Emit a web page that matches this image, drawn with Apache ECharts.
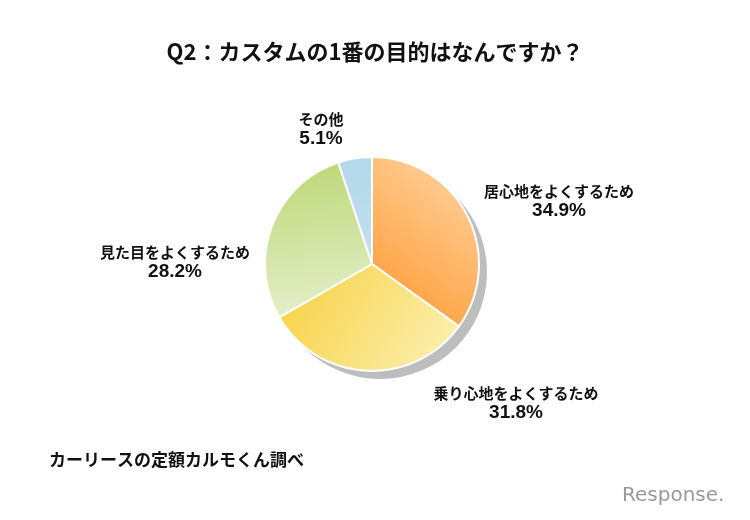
<!DOCTYPE html>
<html>
<head>
<meta charset="utf-8">
<script src="https://cdn.jsdelivr.net/npm/echarts@6/dist/echarts.min.js"></script>
<style>html,body{margin:0;padding:0;background:#fff;}#c{width:750px;height:520px;}</style>
</head>
<body>
<div id="c"></div>
<script>
const categories = ['居心地をよくするため', '乗り心地をよくするため', '見た目をよくするため', 'その他'];
const values = [34.9, 31.8, 28.2, 5.1];
const percentLabels = ['34.9%', '31.8%', '28.2%', '5.1%'];

const titleText = 'Q2：カスタムの1番の目的はなんですか？';
const sourceText = 'カーリースの定額カルモくん調べ';

const FONT = '"Noto Sans CJK JP", "Noto Sans", sans-serif';
const sliceColors = [
  {type:'linear', x:1, y:0, x2:0, y2:0.85, colorStops:[{offset:0,color:'#ffd8a8'},{offset:1,color:'#ff9c36'}]},
  {type:'linear', x:0, y:0, x2:1, y2:1, colorStops:[{offset:0,color:'#f7d03e'},{offset:1,color:'#fbf2b8'}]},
  {type:'linear', x:0.3, y:0, x2:0.5, y2:1, colorStops:[{offset:0,color:'#bcd876'},{offset:1,color:'#e5efcb'}]},
  {type:'linear', x:0, y:0, x2:1, y2:1, colorStops:[{offset:0,color:'#b2d8ea'},{offset:1,color:'#c2e0ee'}]}
];
const labelPos = [[559, 201], [516, 403], [175, 262], [321, 129]];

const chart = echarts.init(document.getElementById('c'), null, {renderer:'canvas'});
chart.setOption({
  backgroundColor: '#fff',
  animation: false,
  title: {
    text: titleText,
    left: 'center',
    top: 36,
    textStyle: {fontFamily: FONT, fontSize: 22, fontWeight: 'bold', color: '#111'}
  },
  graphic: [
    {type:'text', left: 49, top: 451, style: {text: sourceText, font: 'bold 17px ' + FONT, fill: '#111'}},
    {type:'text', left: 622, top: 486, style: {text: 'Response.', font: '20px "DejaVu Sans", sans-serif', fill: '#9a9a9a'}}
  ],
  series: [
    {
      type: 'pie',
      silent: true,
      center: [380, 272],
      radius: 107,
      label: {show: false},
      labelLine: {show: false},
      itemStyle: {color: '#bdbdbd'},
      data: [{value: 100, name: 'shadow'}],
      z: 1
    },
    {
      type: 'pie',
      center: [372, 264],
      radius: 107,
      startAngle: 90,
      clockwise: true,
      z: 2,
      itemStyle: {borderColor: '#fff', borderWidth: 2},
      labelLine: {show: false},
      label: {
        show: true,
        position: 'outside',
        formatter: p => '{n|' + p.name + '}\n{p|' + percentLabels[p.dataIndex] + '}',
        rich: {
          n: {fontFamily: FONT, fontSize: 15, fontWeight: 'bold', color: '#111', lineHeight: 19, align: 'center'},
          p: {fontFamily: '"Liberation Sans", Arial, sans-serif', fontSize: 19, fontWeight: 'bold', color: '#111', lineHeight: 20, align: 'center'}
        }
      },
      labelLayout: p => ({x: labelPos[p.dataIndex][0], y: labelPos[p.dataIndex][1], align: 'center', verticalAlign: 'middle'}),
      data: categories.map((c, i) => ({name: c, value: values[i], itemStyle: {color: sliceColors[i]}}))
    }
  ]
});
</script>
</body>
</html>
